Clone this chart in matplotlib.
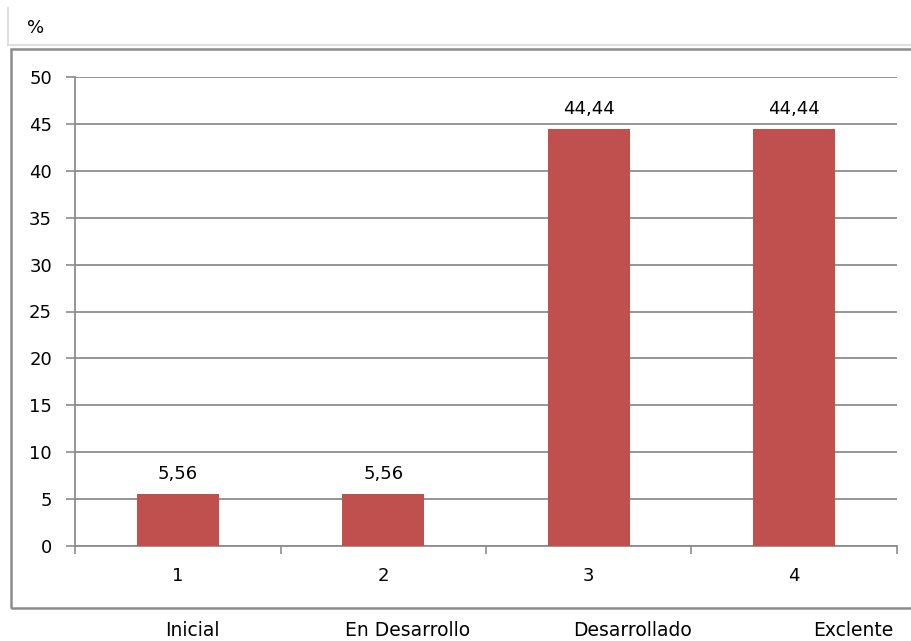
import matplotlib.pyplot as plt
from matplotlib.patches import Rectangle
from matplotlib.lines import Line2D

# chart values
categories = ["1", "2", "3", "4"]
values = [5.56, 5.56, 44.44, 44.44]
levels = ["Inicial", "En Desarrollo", "Desarrollado", "Exclente"]

W, H = 912, 641
fig = plt.figure(figsize=(W / 100, H / 100), dpi=100)
plt.rcParams['font.family'] = ['DejaVu Sans']


def px(x, y):
    """pixel coords (top-left origin) to figure fraction"""
    return x / W, 1 - y / H


# spreadsheet-ish background lines and chart border
fig.add_artist(Line2D([8 / W, 1], [1 - 45 / H] * 2, color="#d9d9d9", lw=1.2))
fig.add_artist(Line2D([8 / W] * 2, [1 - 8 / H, 1 - 45 / H], color="#d9d9d9", lw=1.2))
fig.add_artist(Rectangle(px(11, 608), (W + 20) / W, (608 - 49) / H,
                         fill=False, ec="#8c8c8c", lw=1.8))
fig.text(*px(27, 28), "%", fontsize=13, va="center", ha="left")

# plot area
left, right, top, bottom = 75, 897, 77, 546
ax = fig.add_axes([left / W, 1 - bottom / H, (right - left) / W, (bottom - top) / H])

x = range(len(values))
bars = ax.bar(x, values, width=0.4, color="#C0504D", zorder=3)
for b, v in zip(bars, values):
    ax.text(b.get_x() + b.get_width() / 2, v + 1.2, f"{v:.2f}".replace(".", ","),
            ha="center", va="bottom", fontsize=13)

ax.set_xlim(-0.5, len(values) - 0.5)
ax.set_ylim(0, 50)
ax.set_yticks(range(0, 51, 5))
ax.yaxis.grid(True, color="#8c8c8c", lw=1.3, zorder=0)
ax.set_axisbelow(True)

ax.set_xticks(x)
ax.set_xticklabels(categories, fontsize=13)
ax.set_xticks([i - 0.5 for i in range(len(values) + 1)], minor=True)
ax.tick_params(axis="x", which="major", length=0, pad=15)
ax.tick_params(axis="x", which="minor", length=6, width=1.2, color="#8c8c8c", direction="out")
ax.tick_params(axis="y", length=6.5, width=1.2, color="#8c8c8c", labelsize=13, pad=10)

for s in ("top", "right"):
    ax.spines[s].set_visible(False)
for s in ("left", "bottom"):
    ax.spines[s].set_color("#8c8c8c")
    ax.spines[s].set_linewidth(1.3)

# level names under the chart
for cx, lab in zip([192, 408, 633, 853], levels):
    fig.text(*px(cx, 630), lab, fontsize=13.5, ha="center", va="center")

fig.savefig("out.png", dpi=100)
